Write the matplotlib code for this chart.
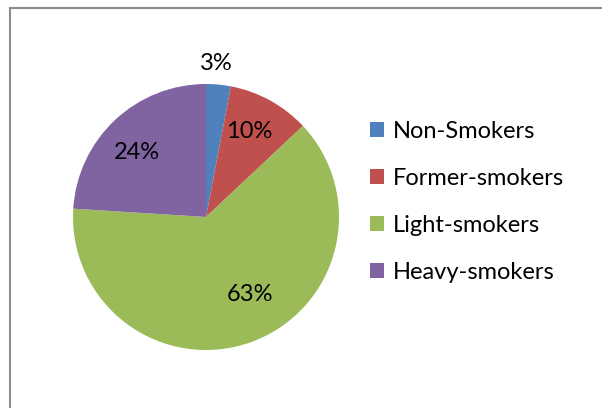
import numpy as np
import matplotlib.pyplot as plt
from matplotlib.patches import Patch
from matplotlib.lines import Line2D

labels = ['Non-Smokers', 'Former-smokers', 'Light-smokers', 'Heavy-smokers']
shares = [3, 10, 63, 24]
colors = ['#4F81BD', '#C0504D', '#9BBB59', '#8064A2']

plt.rcParams['font.family'] = ['Lato', 'DejaVu Sans']

W, H = 602, 408
fig = plt.figure(figsize=(W / 100, H / 100), dpi=100)

# chart area border (top and left edges visible)
fig.add_artist(Line2D([10 / W, 1], [1 - 8 / H, 1 - 8 / H], color='#8c8c8c', lw=1.5))
fig.add_artist(Line2D([10 / W, 10 / W], [0, 1 - 8 / H], color='#8c8c8c', lw=1.5))

cx, cy, r = 206, 217, 133
ax = fig.add_axes([(cx - r) / W, (H - cy - r) / H, 2 * r / W, 2 * r / H])
wedges, _ = ax.pie(shares, colors=colors, startangle=90, counterclock=False,
                   radius=1, wedgeprops=dict(linewidth=0))
ax.set_xlim(-1, 1)
ax.set_ylim(-1, 1)
ax.set_aspect('equal')
ax.axis('off')

# percentage labels (distance from centre, small angle nudge like Excel's best fit)
dists = [1.155, 0.72, 0.67, 0.71]
nudge = [1.7, 2.2, 9.6, 3.5]
for w, s, d, n in zip(wedges, shares, dists, nudge):
    ang = np.deg2rad((w.theta1 + w.theta2) / 2 + n)
    ax.text(d * np.cos(ang), d * np.sin(ang), f'{s}%', ha='center', va='center',
            fontsize=17, color='black')

handles = [Patch(facecolor=c, edgecolor='none') for c in colors]
fig.legend(handles, labels, loc='upper left', bbox_to_anchor=(370 / W, 1 - 121 / H),
           frameon=False, fontsize=17, handlelength=0.6, handleheight=0.6,
           handletextpad=0.35, labelspacing=1.1, borderpad=0, borderaxespad=0)

fig.savefig('out.png', dpi=100)
